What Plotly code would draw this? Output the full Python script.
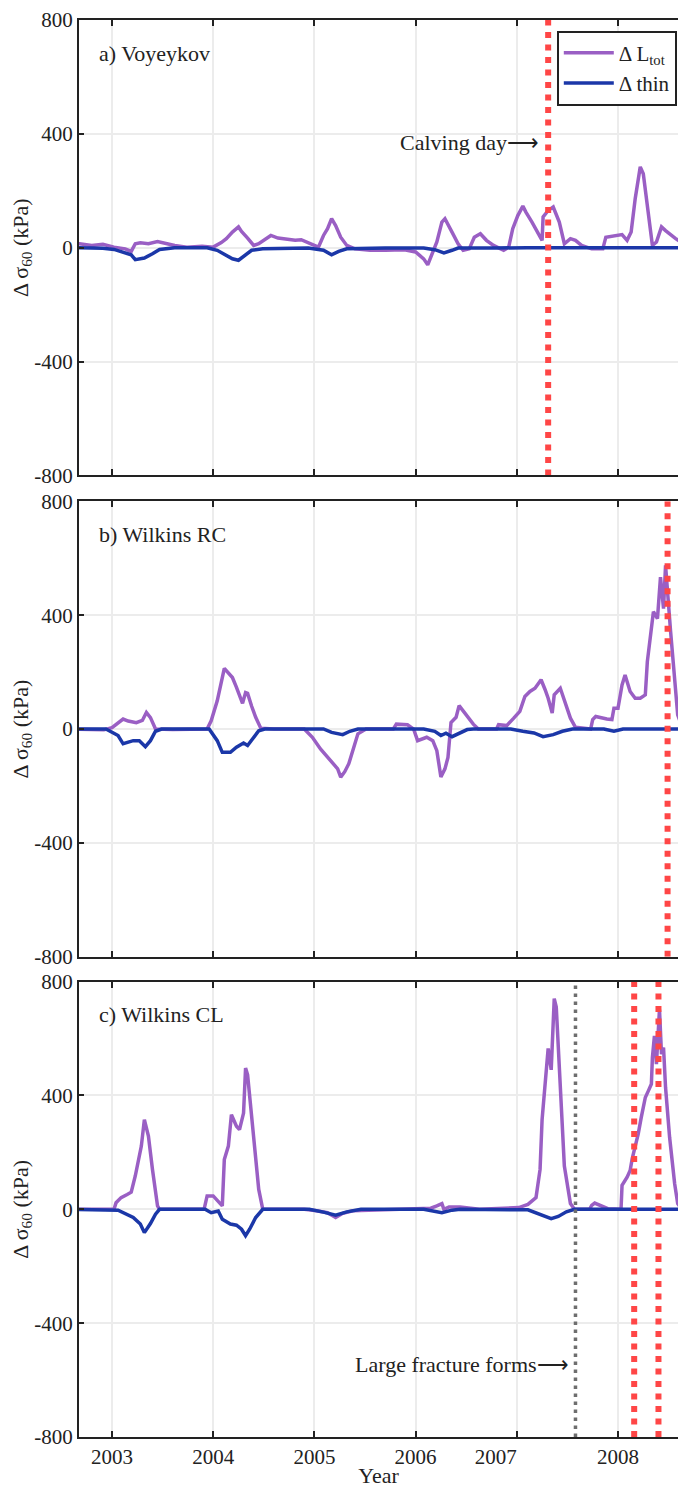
import plotly.graph_objects as go

# ---- time series (decimal year, kPa) ----
# a) Voyeykov
a_t_ltot = [2002.60, 2002.68, 2002.80, 2002.91, 2003.02, 2003.13, 2003.19, 2003.23, 2003.28, 2003.36,
            2003.45, 2003.53, 2003.62, 2003.74, 2003.89, 2004.00, 2004.08, 2004.13, 2004.19, 2004.25,
            2004.28, 2004.34, 2004.40, 2004.45, 2004.53, 2004.57, 2004.64, 2004.72, 2004.81, 2004.87,
            2004.94, 2005.04, 2005.09, 2005.13, 2005.17, 2005.21, 2005.26, 2005.32, 2005.40, 2005.55,
            2005.70, 2005.89, 2006.00, 2006.08, 2006.12, 2006.15, 2006.21, 2006.26, 2006.29, 2006.36,
            2006.42, 2006.47, 2006.53, 2006.58, 2006.64, 2006.70, 2006.77, 2006.87, 2006.92, 2006.96,
            2007.01, 2007.06, 2007.09, 2007.15, 2007.21, 2007.25, 2007.26, 2007.31, 2007.36, 2007.42,
            2007.47, 2007.53, 2007.58, 2007.64, 2007.74, 2007.85, 2007.88, 2007.96, 2008.04, 2008.09,
            2008.13, 2008.17, 2008.22, 2008.25, 2008.28, 2008.31, 2008.34, 2008.38, 2008.43, 2008.47,
            2008.52, 2008.57, 2008.62]
a_ltot = [12, 14, 8, 12, 2, -4, -13, 14, 17, 14,
          22, 14, 8, 2, 5, 2, 18, 32, 55, 73,
          57, 34, 8, 14, 34, 43, 34, 29, 26, 28,
          18, 2, 43, 67, 102, 78, 37, 8, -4, -9,
          -9, -7, -15, -39, -60, -33, 20, 90, 102, 55,
          14, -9, -4, 37, 49, 26, 8, -9, 2, 67,
          113, 146, 125, 90, 49, 26, 108, 131, 143, 90,
          14, 32, 26, 8, -4, -4, 37, 41, 46, 26,
          55, 172, 284, 260, 172, 80, 8, 20, 73, 60,
          45, 32, 20]
a_t_thin = [2002.60, 2002.91, 2003.02, 2003.13, 2003.19, 2003.23, 2003.32, 2003.40, 2003.47, 2003.62,
            2003.94, 2004.04, 2004.13, 2004.19, 2004.25, 2004.30, 2004.38, 2004.49, 2004.94, 2005.09,
            2005.17, 2005.24, 2005.32, 2005.70, 2006.08, 2006.19, 2006.28, 2006.36, 2006.42, 2006.80,
            2007.02, 2007.10, 2008.62]
a_thin = [0, -2, -6, -18, -25, -42, -36, -21, -6, 0,
          0, -9, -25, -39, -44, -29, -9, -4, -1, -9,
          -25, -13, -4, -1, -1, -7, -18, -9, -1, -1,
          -2, 0, 0]

# b) Wilkins RC
b_t_ltot = [2002.60, 2002.85, 2002.92, 2003.00, 2003.06, 2003.11, 2003.16, 2003.24, 2003.30, 2003.34,
            2003.38, 2003.43, 2003.60, 2003.94, 2003.98, 2004.04, 2004.11, 2004.15, 2004.19, 2004.23,
            2004.29, 2004.32, 2004.34, 2004.38, 2004.42, 2004.47, 2004.60, 2004.90, 2004.98, 2005.06,
            2005.13, 2005.19, 2005.23, 2005.26, 2005.30, 2005.34, 2005.38, 2005.43, 2005.51, 2005.78,
            2005.81, 2005.92, 2005.98, 2006.02, 2006.11, 2006.17, 2006.21, 2006.25, 2006.29, 2006.32,
            2006.35, 2006.40, 2006.43, 2006.49, 2006.57, 2006.62, 2006.80, 2006.82, 2006.90, 2006.97,
            2007.03, 2007.08, 2007.13, 2007.18, 2007.24, 2007.28, 2007.31, 2007.35, 2007.37, 2007.43,
            2007.48, 2007.53, 2007.58, 2007.72, 2007.73, 2007.75, 2007.78, 2007.89, 2007.94, 2007.96,
            2008.00, 2008.04, 2008.07, 2008.12, 2008.17, 2008.22, 2008.27, 2008.29, 2008.35, 2008.39,
            2008.42, 2008.45, 2008.47, 2008.52, 2008.56, 2008.59, 2008.62]
b_ltot = [0, 0, -3, 5, 20, 35, 28, 22, 30, 58,
          40, 0, -2, 0, 29, 99, 213, 198, 181, 146,
          90, 128, 125, 80, 41, 3, 0, 0, -29, -70,
          -99, -128, -140, -169, -150, -122, -76, -17, 0, 0,
          17, 15, 0, -41, -29, -41, -76, -169, -140, -100,
          23, 41, 82, 52, 17, 0, 0, 15, 12, 38,
          62, 114, 132, 143, 173, 138, 108, 56, 120, 143,
          91, 38, 6, 0, 0, 33, 44, 35, 33, 73,
          73, 155, 190, 132, 108, 108, 120, 237, 412, 388,
          534, 423, 575, 342, 180, 50, 20]
b_t_thin = [2002.60, 2002.94, 2003.06, 2003.11, 2003.21, 2003.27, 2003.33, 2003.38, 2003.43, 2003.49,
            2003.96, 2004.04, 2004.09, 2004.17, 2004.23, 2004.30, 2004.34, 2004.40, 2004.45, 2004.51,
            2005.09, 2005.17, 2005.28, 2005.35, 2005.43, 2006.08, 2006.19, 2006.25, 2006.30, 2006.36,
            2006.43, 2006.51, 2006.57, 2006.94, 2007.06, 2007.17, 2007.26, 2007.36, 2007.45, 2007.55,
            2007.86, 2007.96, 2008.05, 2008.62]
b_thin = [0, 0, -23, -52, -41, -41, -62, -41, -8, 0,
          0, -41, -82, -82, -64, -49, -58, -29, -6, 0,
          0, -12, -20, -8, 0, 0, -8, -23, -15, -27,
          -15, -2, 0, 0, -8, -14, -27, -20, -8, 0,
          0, -8, 0, 0]

# c) Wilkins CL
c_t_ltot = [2002.60, 2003.02, 2003.04, 2003.09, 2003.15, 2003.19, 2003.23, 2003.26, 2003.29, 2003.32,
            2003.36, 2003.40, 2003.45, 2003.47, 2003.91, 2003.94, 2004.00, 2004.09, 2004.11, 2004.15,
            2004.18, 2004.23, 2004.26, 2004.30, 2004.32, 2004.34, 2004.40, 2004.45, 2004.49, 2004.90,
            2005.02, 2005.13, 2005.21, 2005.28, 2005.38, 2006.00, 2006.15, 2006.21, 2006.26, 2006.28,
            2006.33, 2006.44, 2006.63, 2007.02, 2007.11, 2007.19, 2007.23, 2007.25, 2007.28, 2007.31,
            2007.34, 2007.37, 2007.39, 2007.43, 2007.47, 2007.53, 2007.57, 2007.72, 2007.74, 2007.77,
            2007.90, 2008.03, 2008.04, 2008.09, 2008.12, 2008.14, 2008.17, 2008.20, 2008.23, 2008.27,
            2008.30, 2008.33, 2008.34, 2008.36, 2008.38, 2008.41, 2008.43, 2008.45, 2008.47, 2008.51,
            2008.56, 2008.59, 2008.62]
c_ltot = [0, 0, 23, 41, 52, 60, 117, 163, 222, 315,
          257, 140, 12, 0, 0, 47, 47, 12, 175, 222,
          332, 292, 280, 338, 496, 472, 257, 70, 0, 0,
          -5, -12, -29, -14, -5, 0, 4, 12, 20, 0,
          8, 8, 0, 6, 17, 41, 140, 315, 437, 565,
          490, 740, 711, 408, 152, 20, 0, 0, 14, 22,
          2, 0, 84, 113, 136, 177, 218, 265, 323, 393,
          416, 440, 533, 609, 510, 702, 545, 568, 428, 253,
          90, 20, 5]
c_t_thin = [2002.60, 2003.06, 2003.21, 2003.28, 2003.32, 2003.38, 2003.43, 2003.47, 2003.92, 2003.98,
            2004.05, 2004.09, 2004.17, 2004.23, 2004.28, 2004.32, 2004.36, 2004.42, 2004.49, 2004.95,
            2005.09, 2005.21, 2005.32, 2005.46, 2006.08, 2006.26, 2006.36, 2006.44, 2007.11, 2007.23,
            2007.34, 2007.41, 2007.49, 2007.57, 2008.62]
c_thin = [0, -3, -29, -52, -82, -50, -17, 0, 0, -12,
          -6, -35, -52, -56, -70, -93, -70, -29, 0, 0,
          -10, -21, -9, 0, 0, -12, -3, 0, -2, -17,
          -33, -25, -9, 0, 0]

# ---- event markers (decimal year) ----
a_calving = [2007.31]
b_calving = [2008.49]
c_calving = [2008.16, 2008.40]
c_fracture = [2007.58]

year_ticks = [2003, 2004, 2005, 2006, 2007, 2008]
# the 2007 label sits a little left of its tick (trailing em spaces)
year_tick_text = ["2003", "2004", "2005", "2006", "2007\u2003\u2003", "2008"]
y_ticks = [-800, -400, 0, 400, 800]
y_tick_text = ["-800", "-400", "0", "400", "800"]

panel_names = ["a) Voyeykov", "b) Wilkins RC", "c) Wilkins CL"]

PURPLE = "#9a5fc4"
BLUE = "#1b37a8"
RED = "#ff4646"
GREY = "#6e6e6e"
INK = "#222222"
FONT = "Liberation Serif"
TXT = 22   # labels, titles
TICK = 21  # tick labels
LEG = 21   # legend entries

panels = [
    (a_t_ltot, a_ltot, a_t_thin, a_thin, a_calving, []),
    (b_t_ltot, b_ltot, b_t_thin, b_thin, b_calving, []),
    (c_t_ltot, c_ltot, c_t_thin, c_thin, c_calving, c_fracture),
]

# panel domains (paper units, bottom -> top)
domains = [[0.6786, 1.0], [0.3390, 0.6603], [0.0, 0.3214]]

fig = go.Figure()

for i, (tl, vl, tt, vt, calving, fracture) in enumerate(panels):
    sfx = "" if i == 0 else str(i + 1)
    xa, ya = "x" + sfx, "y" + sfx
    fig.add_trace(go.Scatter(x=tl, y=vl, mode="lines", xaxis=xa, yaxis=ya,
                             line=dict(color=PURPLE, width=3.5),
                             name="Δ L<sub>tot</sub>", showlegend=(i == 0)))
    fig.add_trace(go.Scatter(x=tt, y=vt, mode="lines", xaxis=xa, yaxis=ya,
                             line=dict(color=BLUE, width=3.5),
                             name="Δ thin", showlegend=(i == 0)))
    for d in fracture:
        fig.add_trace(go.Scatter(x=[d, d], y=[-800, 800], mode="lines", xaxis=xa, yaxis=ya,
                                 line=dict(color=GREY, width=3.5, dash="3.5px,4.5px"),
                                 showlegend=False, hoverinfo="skip"))
    for d in calving:
        fig.add_trace(go.Scatter(x=[d, d], y=[-800, 800], mode="lines", xaxis=xa, yaxis=ya,
                                 line=dict(color=RED, width=6, dash="6px,6.5px"),
                                 showlegend=False, hoverinfo="skip"))

    axis_x = dict(
        domain=[0, 1], range=[2002.674, 2008.593], anchor=ya,
        tickmode="array", tickvals=year_ticks, ticktext=year_tick_text,
        showticklabels=(i == 2),
        ticks="inside", ticklen=6, tickwidth=2, tickcolor=INK,
        showline=True, linecolor=INK, linewidth=2, mirror="ticks",
        showgrid=True, gridcolor="#ececec", gridwidth=1.5, zeroline=False,
        tickfont=dict(family=FONT, size=TICK, color=INK),
    )
    if i == 2:
        axis_x["title"] = dict(text="Year", font=dict(family=FONT, size=TXT, color=INK), standoff=3)
    axis_y = dict(
        domain=domains[i], range=[-800, 800], anchor=xa,
        tickmode="array", tickvals=y_ticks, ticktext=y_tick_text,
        ticks="inside", ticklen=5, tickwidth=2, tickcolor=INK,
        showline=True, linecolor=INK, linewidth=2, mirror=False,
        showgrid=True, gridcolor="#ececec", gridwidth=1.5, zeroline=False,
        tickfont=dict(family=FONT, size=TICK, color=INK),
        title=dict(text="Δ σ<sub>60</sub> (kPa)", font=dict(family=FONT, size=TXT, color=INK),
                   standoff=0),
    )
    fig.layout["xaxis" + sfx] = axis_x
    fig.layout["yaxis" + sfx] = axis_y

    fig.add_annotation(text=panel_names[i], xref=xa + " domain", yref=ya + " domain",
                       x=0.03, y=0.927, xanchor="left", yanchor="middle", showarrow=False,
                       font=dict(family=FONT, size=TXT, color=INK))

fig.add_annotation(text="Calving day⟶", xref="x", yref="y", x=2007.235, y=368,
                   xanchor="right", yanchor="middle", showarrow=False,
                   font=dict(family=FONT, size=TXT, color=INK))
fig.add_annotation(text="Large fracture forms⟶", xref="x3", yref="y3", x=2007.535, y=-544,
                   xanchor="right", yanchor="middle", showarrow=False,
                   font=dict(family=FONT, size=TXT, color=INK))

fig.update_layout(
    width=678, height=1488,
    margin=dict(l=79, r=0, t=20, b=46),
    paper_bgcolor="white", plot_bgcolor="white",
    font=dict(family=FONT, size=TXT, color=INK),
    legend=dict(x=0.998, y=0.9925, xanchor="right", yanchor="top",
                bgcolor="white", bordercolor=INK, borderwidth=2,
                font=dict(family=FONT, size=LEG, color=INK),
                tracegroupgap=0, itemwidth=50),
    showlegend=True,
)

fig.write_html("out.html")
